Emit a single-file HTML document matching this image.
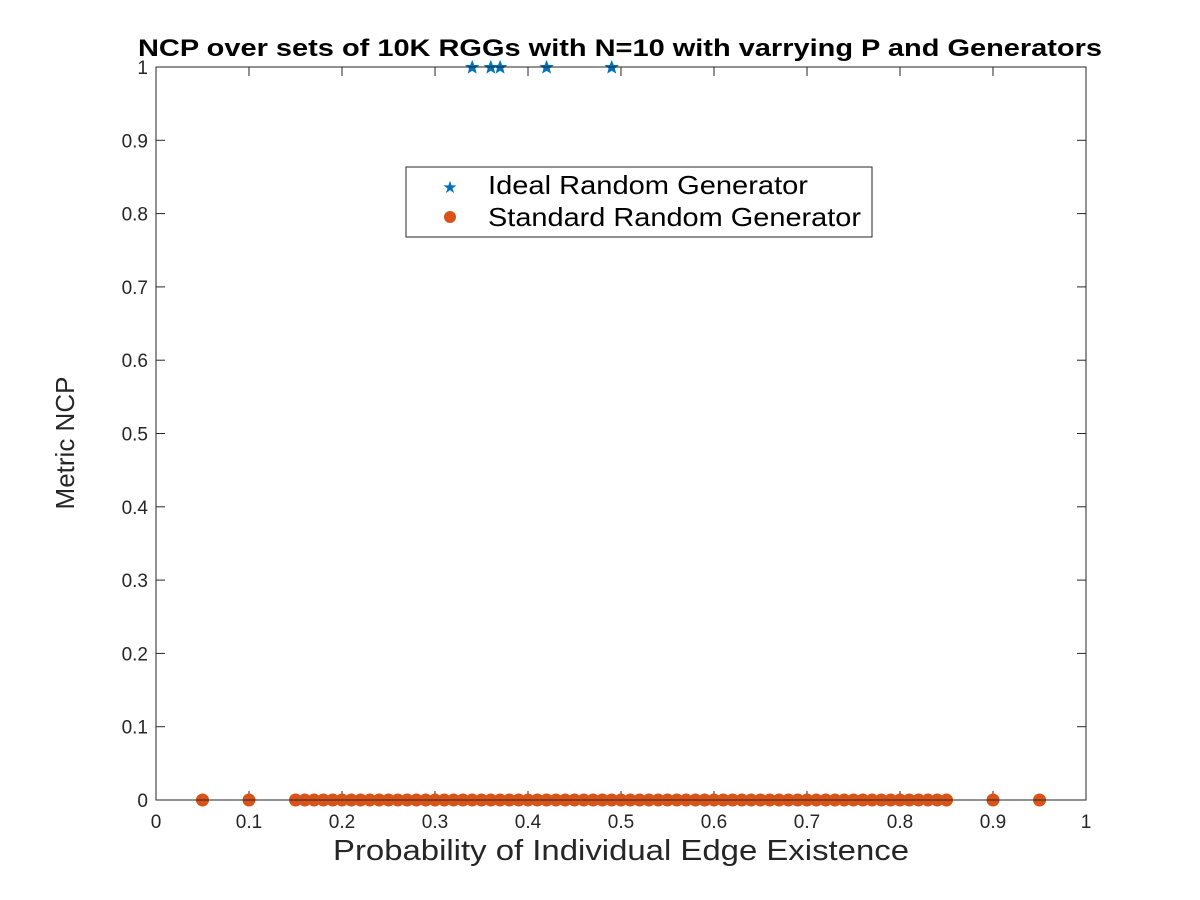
<!DOCTYPE html>
<html><head><meta charset="utf-8"><style>
html,body{margin:0;padding:0;background:#fff;}
svg{display:block;font-family:"Liberation Sans",Arial,sans-serif;}
</style></head><body>
<svg id="chart" width="1200" height="900" viewBox="0 0 1200 900">
<rect x="0" y="0" width="1200" height="900" fill="#fff"/>
<text x="620" y="56" text-anchor="middle" font-size="24" font-weight="bold" fill="#000" textLength="964" lengthAdjust="spacingAndGlyphs">NCP over sets of 10K RGGs with N=10 with varrying P and Generators</text>
<g id="ticks"></g>
<g id="marks"></g>
<rect x="156" y="67" width="930" height="733" fill="none" stroke="#262626" stroke-width="1"/>
<text x="621" y="860" text-anchor="middle" font-size="29" fill="#262626" textLength="576" lengthAdjust="spacingAndGlyphs">Probability of Individual Edge Existence</text>
<text transform="translate(74,443) rotate(-90)" text-anchor="middle" font-size="26" fill="#262626">Metric NCP</text>
<g>
<rect x="406" y="167" width="466" height="70" fill="#fff" stroke="#262626" stroke-width="1"/>
<text x="450" y="193" text-anchor="middle" font-size="17" fill="#0072BD">★</text>
<text x="488" y="194" font-size="26" fill="#000" textLength="320" lengthAdjust="spacingAndGlyphs">Ideal Random Generator</text>
<circle cx="450" cy="217" r="6" fill="#D95319"/>
<text x="488" y="226" font-size="26" fill="#000" textLength="373" lengthAdjust="spacingAndGlyphs">Standard Random Generator</text>
</g>
</svg>
<script>
const xTicks = [0,0.1,0.2,0.3,0.4,0.5,0.6,0.7,0.8,0.9,1];
const xTickLabels = ["0","0.1","0.2","0.3","0.4","0.5","0.6","0.7","0.8","0.9","1"];
const yTicks = [0,0.1,0.2,0.3,0.4,0.5,0.6,0.7,0.8,0.9,1];
const yTickLabels = ["0","0.1","0.2","0.3","0.4","0.5","0.6","0.7","0.8","0.9","1"];
const idealP = [0.34,0.36,0.37,0.42,0.49];
const idealNCP = [1,1,1,1,1];
const standardP = [0.05,0.1,0.15,0.16,0.17,0.18,0.19,0.2,0.21,0.22,0.23,0.24,0.25,0.26,0.27,0.28,0.29,0.3,0.31,0.32,0.33,0.34,0.35,0.36,0.37,0.38,0.39,0.4,0.41,0.42,0.43,0.44,0.45,0.46,0.47,0.48,0.49,0.5,0.51,0.52,0.53,0.54,0.55,0.56,0.57,0.58,0.59,0.6,0.61,0.62,0.63,0.64,0.65,0.66,0.67,0.68,0.69,0.7,0.71,0.72,0.73,0.74,0.75,0.76,0.77,0.78,0.79,0.8,0.81,0.82,0.83,0.84,0.85,0.9,0.95];
const standardNCP = standardP.map(()=>0);

const X0=156,X1=1086,Y0=800,Y1=67;
function sx(v){return X0+(X1-X0)*v;}
function sy(v){return Y0-(Y0-Y1)*v;}
const NS="http://www.w3.org/2000/svg";
const ticksG=document.getElementById('ticks');
const marksG=document.getElementById('marks');
function mk(tag,attrs,parent){const e=document.createElementNS(NS,tag);for(const k in attrs)e.setAttribute(k,attrs[k]);parent.appendChild(e);return e;}

xTicks.forEach((v,i)=>{
  const x=sx(v);
  const t1=mk('line',{x1:x,x2:x,y1:Y0,y2:Y0-9,stroke:'#262626'},ticksG);
  
  
  const t2=mk('line',{x1:x,x2:x,y1:Y1,y2:Y1+9,stroke:'#262626'},ticksG);
  
  
  const lb=mk('text',{x:x,y:Y0+28,'text-anchor':'middle','font-size':'19',fill:'#262626'},ticksG);
  lb.textContent=xTickLabels[i];
  
  
});
yTicks.forEach((v,i)=>{
  const y=sy(v);
  const t1=mk('line',{x1:X0,x2:X0+9,y1:y,y2:y,stroke:'#262626'},ticksG);
  
  
  const t2=mk('line',{x1:X1,x2:X1-9,y1:y,y2:y,stroke:'#262626'},ticksG);
  
  
  const lb=mk('text',{x:X0-8,y:y+7,'text-anchor':'end','font-size':'19',fill:'#262626'},ticksG);
  lb.textContent=yTickLabels[i];
  
  
});
standardP.forEach((p,i)=>{
  const c=mk('circle',{cx:sx(p),cy:sy(standardNCP[i]),r:6.5,fill:'#D95319'},marksG);
  
  
});
function starPath(cx,cy,R,r){let d='';for(let k=0;k<10;k++){const a=-Math.PI/2+k*Math.PI/5;const rr=k%2?r:R;d+=(k?'L':'M')+(cx+rr*Math.cos(a)).toFixed(2)+','+(cy+rr*Math.sin(a)).toFixed(2);}return d+'Z';}
idealP.forEach((p,i)=>{
  const s=mk('path',{d:starPath(sx(p),sy(idealNCP[i])+0.5,6.5,2.8),fill:'#0072BD',stroke:'#0072BD','stroke-width':'0.8'},marksG);
  
  
});
</script>
</body></html>
